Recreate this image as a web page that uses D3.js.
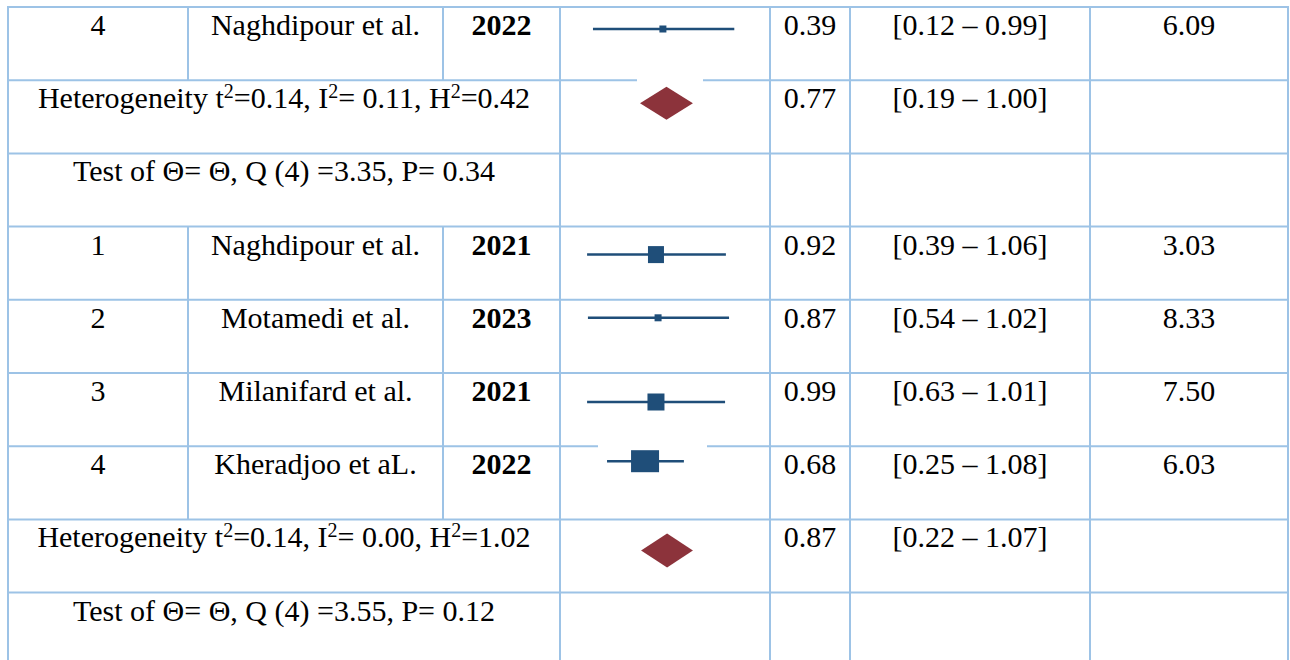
<!DOCTYPE html>
<html>
<head>
<meta charset="utf-8">
<script src="https://cdn.jsdelivr.net/npm/d3@7"></script>
<style>
    body { margin: 0; background: #fff; }
    svg { display: block; }
    svg text { font-family: "Liberation Serif", Tinos, "Times New Roman", "DejaVu Serif", serif; }
</style>
</head>
<body>
<script>
const studyIds = ["4", "1", "2", "3", "4"];
const authors = ["Naghdipour et al.", "Naghdipour et al.", "Motamedi et al.", "Milanifard et al.", "Kheradjoo et aL."];
const years = ["2022", "2021", "2023", "2021", "2022"];
const effects = [0.39, 0.92, 0.87, 0.99, 0.68];
const ciLow = [0.12, 0.39, 0.54, 0.63, 0.25];
const ciHigh = [0.99, 1.06, 1.02, 1.01, 1.08];
const weights = [6.09, 3.03, 8.33, 7.50, 6.03];

const pooledEffect = [0.77, 0.87];
const pooledLow = [0.19, 0.22];
const pooledHigh = [1.00, 1.07];
const tau2 = [0.14, 0.14];
const iSq = [0.11, 0.00];
const hSq = [0.42, 1.02];
const qStat = [3.35, 3.55];
const qDf = [4, 4];
const pVal = [0.34, 0.12];

// the forest glyphs as drawn in the source (plot units, 0 = left of plot column, 100 = right)
const drawLo = [15.7, 12.9, 13.3, 12.9, 22.4];
const drawMid = [49.0, 45.7, 46.7, 45.7, 40.5];
const drawHi = [83.0, 79.0, 80.5, 78.6, 59.0];
const diamondLo = [38.1, 38.6];
const diamondMid = [50.7, 51.0];
const diamondHi = [63.3, 63.3];

// ---- layout ----
const svgWidth = 1290;
const svgHeight = 660;
const colEdges = [8, 188, 443, 560, 770, 850, 1090, 1288];
const tableTop = 7;
const rowH = 73.2;
const nRows = 9;
const studyRows = [0, 3, 4, 5, 6];
const pooledRows = [1, 7];
const testRows = [2, 8];

// per-glyph vertical offset inside its row and box sizes (picture styling)
const studyMarkDy = [22, 28, 18, 29, 15];
const boxW = [7, 16, 7, 17, 28];
const boxH = [7, 17, 7, 17, 22];
const diamondDy = [23, 31];
const diamondH = [33, 34];
// horizontal rule pieces hidden by the glyph pictures in the source: rule index -> [x0, x1]
const ruleGaps = {1: [636, 704], 6: [597, 708]};

const gridColor = "#9dc3e6";
const blue = "#1f4e79";
const red = "#8c333b";
const fontSize = 30;
const baseDy = 28;

const fmt2 = d3.format(".2f");

const svg = d3.select("body")
    .append("svg")
    .attr("width", svgWidth)
    .attr("height", svgHeight);

const y = d3.scaleLinear().domain([0, nRows]).range([tableTop, tableTop + nRows * rowH]);
const plotX = d3.scaleLinear().domain([0, 100]).range([colEdges[3], colEdges[4]]);
const colMid = i => (colEdges[i] + colEdges[i + 1]) / 2;

// ---- grid ----
const grid = svg.append("g")
    .attr("stroke", gridColor)
    .attr("stroke-width", 2)
    .attr("fill", "none");

d3.range(nRows).forEach(r => {
    const yy = y(r);
    const gap = ruleGaps[r];
    const segs = gap ? [[colEdges[0], gap[0]], [gap[1], colEdges[7]]] : [[colEdges[0], colEdges[7]]];
    segs.forEach(s => grid.append("line").attr("x1", s[0] - 1).attr("x2", s[1] + 1).attr("y1", yy).attr("y2", yy));
});

// outer and always-present column rules
[0, 3, 4, 5, 6, 7].forEach(c => {
    grid.append("line")
        .attr("x1", colEdges[c]).attr("x2", colEdges[c])
        .attr("y1", tableTop).attr("y2", svgHeight);
});
// inner rules of the first three columns only in study rows
[1, 2].forEach(c => {
    studyRows.forEach(r => {
        grid.append("line")
            .attr("x1", colEdges[c]).attr("x2", colEdges[c])
            .attr("y1", y(r)).attr("y2", y(r + 1));
    });
});

// ---- text ----
const textG = svg.append("g")
    .style("font-size", fontSize + "px")
    .attr("fill", "#000")
    .attr("text-anchor", "middle");

function cellText(x, r, str, bold) {
    return textG.append("text")
        .attr("x", x)
        .attr("y", y(r) + baseDy)
        .style("font-weight", bold ? "bold" : null)
        .text(str);
}

studyRows.forEach((r, i) => {
    cellText(colMid(0), r, studyIds[i]);
    cellText(colMid(1), r, authors[i]);
    cellText(colMid(2), r, years[i], true);
    cellText(colMid(4), r, fmt2(effects[i]));
    cellText(colMid(5), r, `[${fmt2(ciLow[i])} \u2013 ${fmt2(ciHigh[i])}]`);
    cellText(colMid(6), r, fmt2(weights[i]));
});

const spanMid = (colEdges[0] + colEdges[3]) / 2;

pooledRows.forEach((r, i) => {
    const t = textG.append("text")
        .attr("x", spanMid)
        .attr("y", y(r) + baseDy);
    const parts = [
        ["Heterogeneity t", false], ["2", true], [`=${fmt2(tau2[i])}, I`, false], ["2", true],
        [`= ${fmt2(iSq[i])}, H`, false], ["2", true], [`=${fmt2(hSq[i])}`, false]
    ];
    parts.forEach(([s, sup], k) => {
        const ts = t.append("tspan").text(s);
        if (sup) ts.style("font-size", "20px").attr("dy", -10);
        else if (k > 0) ts.attr("dy", 10);
    });
    cellText(colMid(4), r, fmt2(pooledEffect[i]));
    cellText(colMid(5), r, `[${fmt2(pooledLow[i])} \u2013 ${fmt2(pooledHigh[i])}]`);
});

testRows.forEach((r, i) => {
    cellText(spanMid, r, `Test of \u0398= \u0398, Q (${qDf[i]}) =${fmt2(qStat[i])}, P= ${fmt2(pVal[i])}`);
});

// ---- forest glyphs ----
const forest = svg.append("g");

studyRows.forEach((r, i) => {
    const cy = y(r) + studyMarkDy[i];
    forest.append("line")
        .attr("x1", plotX(drawLo[i])).attr("x2", plotX(drawHi[i]))
        .attr("y1", cy).attr("y2", cy)
        .attr("stroke", blue)
        .attr("stroke-width", 2.5);
    forest.append("rect")
        .attr("x", plotX(drawMid[i]) - boxW[i] / 2)
        .attr("y", cy - boxH[i] / 2)
        .attr("width", boxW[i])
        .attr("height", boxH[i])
        .attr("fill", blue);
});

pooledRows.forEach((r, i) => {
    const cy = y(r) + diamondDy[i];
    const h = diamondH[i] / 2;
    const pts = [
        [plotX(diamondLo[i]), cy],
        [plotX(diamondMid[i]), cy - h],
        [plotX(diamondHi[i]), cy],
        [plotX(diamondMid[i]), cy + h]
    ];
    forest.append("polygon")
        .attr("points", pts.map(p => p.join(",")).join(" "))
        .attr("fill", red);
});
</script>
</body>
</html>
